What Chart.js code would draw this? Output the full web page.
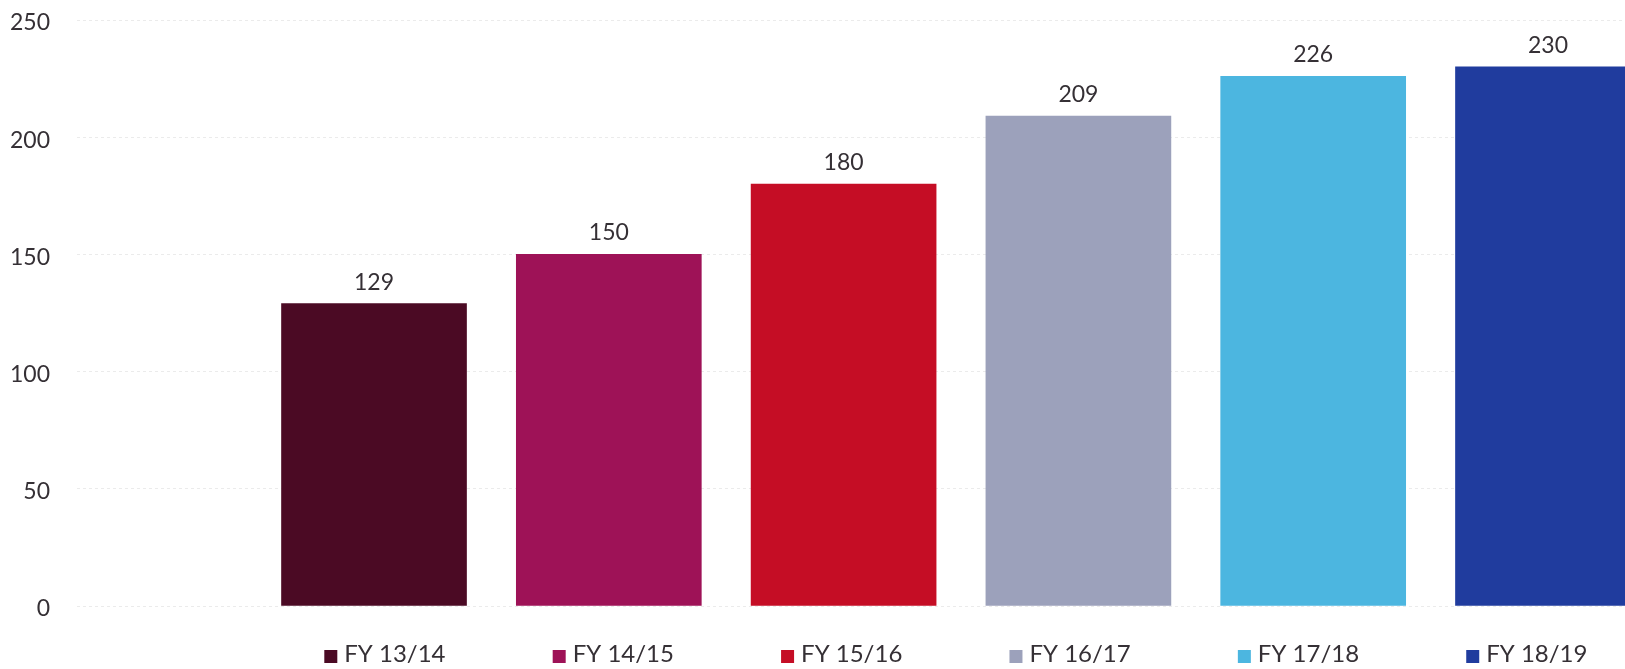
<!DOCTYPE html>
<html>
<head>
<meta charset="utf-8">
<script src="https://cdn.jsdelivr.net/npm/chart.js@4/dist/chart.umd.min.js"></script>
<style>
  html, body { margin: 0; padding: 0; background: #fff; overflow: hidden; }
  #wrap { width: 1625px; height: 669px; }
</style>
</head>
<body>
<div id="wrap"><canvas id="barChart" width="1625" height="669"></canvas></div>
<script>
// Data
const categories = ["FY 13/14", "FY 14/15", "FY 15/16", "FY 16/17", "FY 17/18", "FY 18/19"];
const values = [129, 150, 180, 209, 226, 230];
const yTicks = [0, 50, 100, 150, 200, 250];

const barColors = ["#4b0a24", "#9e1257", "#c50d25", "#9ca1bb", "#4cb6e0", "#203c9e"];
const textColor = "#353035";
const fontFamily = "Lato, 'Open Sans', sans-serif";

// value labels above each bar
const valueLabels = {
  id: "valueLabels",
  afterDatasetsDraw(chart) {
    const ctx = chart.ctx;
    const meta = chart.getDatasetMeta(0);
    ctx.save();
    ctx.font = "23px " + fontFamily;
    ctx.fillStyle = textColor;
    ctx.textAlign = "center";
    ctx.textBaseline = "alphabetic";
    meta.data.forEach((bar, i) => {
      ctx.fillText(String(values[i]), bar.x, bar.y - 14);
    });
    ctx.restore();
  },
};

// coloured squares next to the legend-axis labels
const legendSquares = {
  id: "legendSquares",
  afterDraw(chart) {
    const ctx = chart.ctx;
    const s = chart.scales.lx;
    ctx.save();
    ctx.font = "24px " + fontFamily;
    s.ticks.forEach((t, i) => {
      const px = s.getPixelForTick(i);
      const w = ctx.measureText(categories[i]).width;
      ctx.fillStyle = barColors[i];
      ctx.fillRect(px - w / 2 - 20, s.top + 44, 13, 13);
    });
    ctx.restore();
  },
};

const ctx = document.getElementById("barChart").getContext("2d");
new Chart(ctx, {
  type: "bar",
  data: {
    datasets: [
      {
        data: values.map((v, i) => ({ x: i, y: v })),
        backgroundColor: barColors,
        borderWidth: 0,
        barThickness: 185,
        xAxisID: "x",
      },
    ],
  },
  options: {
    responsive: false,
    animation: false,
    layout: { padding: 0 },
    plugins: {
      legend: { display: false },
      tooltip: { enabled: false },
    },
    scales: {
      x: {
        type: "linear",
        display: false,
        offset: false,
        min: -1.265,
        max: 5.328,
      },
      lx: {
        type: "linear",
        position: "bottom",
        offset: false,
        bounds: "data",
        min: -1.392,
        max: 5.386,
        grid: { display: false, drawTicks: false },
        border: { display: false },
        afterBuildTicks(scale) {
          scale.ticks = categories.map((c, i) => ({ value: i }));
        },
        afterFit(scale) {
          scale.height = 63;
          scale.paddingTop = 0;
          scale.paddingBottom = 0;
        },
        ticks: {
          autoSkip: false,
          maxRotation: 0,
          minRotation: 0,
          padding: 34,
          color: textColor,
          font: { family: fontFamily, size: 24 },
          callback: (value, index) => categories[index],
        },
      },
      y: {
        min: 0,
        max: 250,
        afterBuildTicks(scale) {
          scale.ticks = yTicks.map((v) => ({ value: v }));
        },
        afterFit(scale) {
          scale.width = 77;
          scale.paddingTop = 20;
          scale.paddingBottom = 0;
        },
        grid: {
          color: "#ebebeb",
          lineWidth: 1,
          drawTicks: false,
        },
        border: { display: false, dash: [3, 3] },
        ticks: {
          padding: 27,
          labelOffset: 3,
          color: textColor,
          font: { family: fontFamily, size: 23 },
        },
      },
    },
  },
  plugins: [valueLabels, legendSquares],
});
</script>
</body>
</html>
